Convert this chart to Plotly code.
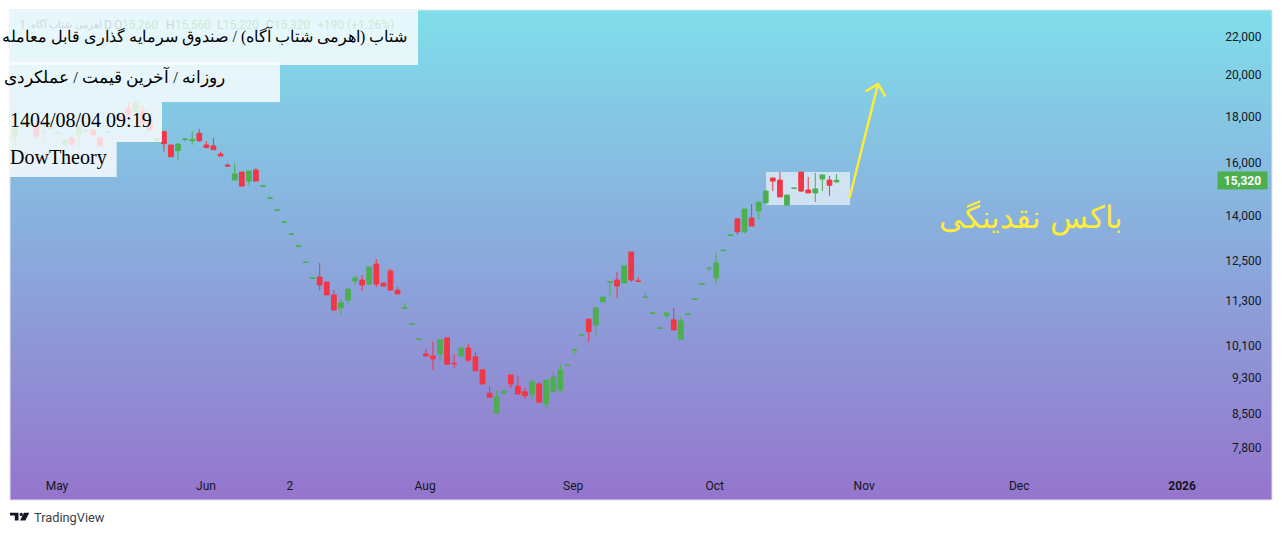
import base64
import math
import struct
import zlib

import plotly.graph_objects as go

# daily bars (bar index on x, last bar from the legend)
open_ = [17090, 17570, 17610, 17620, 17300, 17440, 17260, 16750, 17050, 17220,
         17350, 17400, 17050, 17300, 17660, 18020, 18340, 18210, 18250, 17840,
         16920, 17320, 16750, 16510, 16990, 16930, 17250, 16750, 16710, 16370,
         15920, 15330, 15640, 15290, 15720, 15090, 14640, 14200, 13780, 13370,
         12970, 12450, 11960, 12000, 11850, 11470, 11100, 11320, 11880, 11910,
         11790, 12400, 11820, 12180, 11610, 11090, 10650, 10250, 9880, 9830,
         9880, 10290, 9650, 9830, 10030, 9810, 9490, 8950, 8510, 8950,
         9370, 9110, 8980, 8930, 9160, 8710, 8980, 9020, 9600, 9970,
         10360, 10790, 10630, 11270, 11840, 11910, 11820, 12780, 11880, 11400,
         10950, 10540, 10880, 10770, 10260, 10920, 11340, 11780, 12260, 11970,
         12830, 13330, 13900, 13450, 13930, 14180, 14470, 15410, 15330, 14390,
         15010, 15640, 14950, 14840, 15370, 15330, 15260]
high = [17570, 17800, 17620, 17840, 17840, 17800, 17270, 16960, 17220, 17570,
        17360, 17400, 17050, 17310, 17670, 18020, 18670, 18770, 18530, 17840,
        17030, 17370, 16750, 16790, 17000, 17350, 17440, 16920, 17050, 16460,
        15990, 16010, 15640, 15680, 15800, 15100, 14650, 14210, 13790, 13380,
        12980, 12460, 11970, 12430, 11850, 11610, 11350, 11640, 12030, 12060,
        12310, 12560, 11820, 12250, 11700, 11240, 10660, 10260, 10010, 10190,
        10240, 10290, 9880, 10030, 10130, 9930, 9510, 9110, 9020, 9000,
        9370, 9350, 9070, 9270, 9210, 9250, 9470, 9630, 9610, 9980,
        10370, 10790, 11100, 11410, 11850, 12150, 12340, 12780, 12000, 11530,
        10960, 10550, 10960, 11100, 10850, 10930, 11350, 11790, 12270, 12750,
        12840, 13340, 13900, 14250, 14430, 14500, 14910, 15410, 15640, 14760,
        15020, 15640, 15450, 15610, 15530, 15490, 15560]
low = [16620, 17480, 17610, 17050, 16960, 17440, 17260, 16750, 16790, 16670,
       17350, 17180, 16710, 17300, 17660, 17750, 18070, 18210, 17710, 17400,
       16920, 16470, 16260, 16100, 16880, 16760, 16880, 16640, 16550, 16290,
       15880, 15330, 15100, 15140, 15290, 15090, 14640, 14200, 13780, 13370,
       12970, 12450, 11960, 11610, 11470, 11040, 10900, 11210, 11760, 11590,
       11760, 11700, 11730, 11590, 11500, 11090, 10650, 10250, 9830, 9490,
       9710, 9630, 9540, 9830, 9680, 9470, 9160, 8860, 8510, 8950,
       9070, 8930, 8820, 8800, 8750, 8600, 8980, 8980, 9600, 9880,
       10360, 10190, 10370, 11270, 11410, 11380, 11820, 11850, 11870, 11400,
       10950, 10540, 10820, 10500, 10260, 10920, 11340, 11780, 12180, 11790,
       12830, 13330, 13350, 13410, 13650, 13900, 14470, 14910, 14690, 14390,
       15010, 14880, 14840, 14500, 14910, 14730, 15220]
close = [17480, 17710, 17620, 17130, 17310, 17710, 17270, 16960, 16790, 17570,
         17360, 17180, 16710, 17310, 17670, 17750, 18070, 18620, 17710, 17400,
         17030, 16810, 16260, 16790, 17000, 16980, 16930, 16640, 16550, 16290,
         15880, 15570, 15100, 15680, 15290, 15100, 14650, 14210, 13790, 13380,
         12980, 12460, 11970, 11760, 11470, 11040, 11240, 11640, 11970, 11760,
         12310, 11790, 11730, 11610, 11500, 11100, 10660, 10260, 9830, 9760,
         10240, 9630, 9640, 10030, 9730, 9470, 9160, 8860, 8860, 9000,
         9160, 8930, 8890, 9210, 8750, 9250, 9320, 9490, 9610, 9980,
         10370, 10450, 11100, 11410, 11850, 11730, 12340, 11910, 11870, 11410,
         10960, 10550, 10960, 10500, 10740, 10930, 11350, 11790, 12270, 12430,
         12840, 13340, 13450, 14250, 13650, 14500, 14910, 15290, 14690, 14760,
         15020, 14910, 14840, 14990, 15530, 15130, 15320]

price_ticks = [22000, 20000, 18000, 16000, 14000, 12500, 11300, 10100, 9300, 8500, 7800]
month_ticks = [5.9, 26.95, 38.8, 57.9, 78.8, 98.8, 119.9, 141.8, 164.8]
month_labels = ["May", "Jun", "2", "Aug", "Sep", "Oct", "Nov", "Dec", "<b>2026</b>"]
last_price = 15320

title_lines = [
    "شتاب (اهرمی شتاب آگاه) / صندوق سرمایه گذاری قابل معامله",
    "روزانه / آخرین قیمت / عملکردی",
    "1404/08/04 09:19",
    "DowTheory",
]
box_label = "باکس نقدینگی"

W, H = 1282, 535
L, R, T, B = 10, 1272, 10, 500
GREEN = "#4CAF50"
RED = "#F23645"
YELLOW = "#FFEB3B"
FONT = "Roboto"


def px(x):
    return (x - L) / (R - L)


def py(y):
    return (B - y) / (B - T)


def polygon(points):
    return "M" + " L".join(f"{px(x)},{py(y)}" for x, y in points) + " Z"


def gradient_png(top, bottom, rows):
    raw = b""
    for i in range(rows):
        t = i / (rows - 1)
        raw += b"\x00" + bytes(round(a + (b - a) * t) for a, b in zip(top, bottom))

    def chunk(tag, data):
        return struct.pack(">I", len(data)) + tag + data + struct.pack(">I", zlib.crc32(tag + data))

    png = b"\x89PNG\r\n\x1a\n" + chunk(b"IHDR", struct.pack(">IIBBBBB", 1, rows, 8, 2, 0, 0, 0))
    png += chunk(b"IDAT", zlib.compress(raw)) + chunk(b"IEND", b"")
    return "data:image/png;base64," + base64.b64encode(png).decode()


fig = go.Figure()
fig.add_trace(go.Candlestick(
    x=list(range(len(open_))), open=open_, high=high, low=low, close=close,
    increasing=dict(line=dict(color=GREEN, width=1), fillcolor=GREEN),
    decreasing=dict(line=dict(color=RED, width=1), fillcolor=RED),
    hoverinfo="skip", showlegend=False,
))

shapes = [
    # liquidity box sits under the candles
    dict(type="rect", layer="below", xref="x", yref="y", x0=106.05, x1=117.9, y0=14395, y1=15645,
         fillcolor="rgba(255,255,255,0.6)", line_width=0),
    # arrow
    dict(type="path", xref="paper", yref="paper", line=dict(color=YELLOW, width=2.5),
         path=f"M{px(849.5)},{py(198)} L{px(878)},{py(84)} M{px(865.5)},{py(91.5)} L{px(878)},{py(84)} L{px(885.5)},{py(96.5)}"),
    # frame
    dict(type="rect", xref="paper", yref="paper", x0=0, x1=1, y0=0, y1=1,
         line=dict(color="#E0E3EB", width=1), fillcolor="rgba(0,0,0,0)"),
]
# white boxes behind the title lines
for x1, y0, y1 in [(418, 10, 65), (280, 62, 102), (162, 102, 142), (116.7, 142, 177)]:
    shapes.append(dict(type="rect", xref="paper", yref="paper", x0=0, x1=px(x1), y0=py(y1), y1=py(y0),
                       fillcolor="rgba(255,255,255,0.8)", line_width=0))
# TradingView logo
for pts in [
    [(10, 512.7), (18.5, 512.7), (18.5, 520.5), (14.8, 520.5), (14.8, 515.6), (10, 515.6)],
    [(24, 512.7), (29.3, 512.7), (25.3, 520.5), (20, 520.5)],
]:
    shapes.append(dict(type="path", xref="paper", yref="paper", path=polygon(pts),
                       fillcolor="#131722", line_width=0))
shapes.append(dict(type="circle", xref="paper", yref="paper", x0=px(19.6), x1=px(22.8), y0=py(516), y1=py(512.8),
                   fillcolor="#131722", line_width=0))

annotations = []


def label(x, y, text, size, color, family=FONT, anchor="left"):
    annotations.append(dict(xref="paper", yref="paper", x=px(x), y=py(y), text=text, showarrow=False,
                            xanchor=anchor, yanchor="middle", borderpad=0, font=dict(family=family, size=size, color=color)))


# legend row, almost hidden by the first white box
GREY = "#CFD6DB"
PALE = "#CDE9D6"
label(18, 24.7, "1", 12, GREY)
label(103, 24.7, "اهرمی شتاب آگاه", 10, GREY, FONT, "right")
for x, text, color in [(103, "D", GREY), (112.5, "O", GREY), (120.5, "15,260", PALE), (165, "H", GREY),
                       (173.5, "15,560", PALE), (216, "L", GREY), (222.5, "15,220", PALE), (264.5, "C", GREY),
                       (273, "15,320", PALE), (316, "+190 (+1.26%)", PALE)]:
    label(x, 24.7, text, 12, color)

SERIF = "Liberation Serif"
label(408, 36, title_lines[0], 15.7, "#000000", SERIF, "right")
label(226, 77, title_lines[1], 16.6, "#000000", SERIF, "right")
label(8.5, 120, title_lines[2], 20, "#000000", SERIF)
label(8.5, 157, title_lines[3], 20, "#000000", SERIF)
label(1031, 218, box_label, 30.8, YELLOW, "Liberation Sans", "center")
label(32.5, 517.3, "TradingView", 12.8, "#3A3E4A")

annotations.append(dict(xref="paper", yref="y", x=px(1242.5), y=math.log10(last_price), text=f"<b>{last_price:,}</b>",
                        showarrow=False, xanchor="center", yanchor="middle", bgcolor=GREEN, width=49, height=17,
                        borderpad=0, font=dict(family=FONT, size=12, color="#FFFFFF")))

fig.update_layout(
    width=W, height=H, autosize=False,
    margin=dict(l=L, r=W - R, t=T, b=H - B, pad=0),
    paper_bgcolor="#FFFFFF", plot_bgcolor="rgba(0,0,0,0)",
    boxgap=0.05, dragmode=False, showlegend=False,
    font=dict(family=FONT, size=12, color="#131722"),
    images=[dict(source=gradient_png((128, 222, 234), (149, 117, 205), B - T), xref="paper", yref="paper",
                 x=0, y=1, sizex=1, sizey=1, sizing="stretch", layer="below")],
    shapes=shapes, annotations=annotations,
    xaxis=dict(range=[-0.734, 177.5], rangeslider=dict(visible=False), showgrid=False, zeroline=False,
               tickmode="array", tickvals=month_ticks, ticktext=month_labels, ticklabelposition="inside",
               ticks="inside", ticklen=7, tickcolor="rgba(0,0,0,0)", tickfont=dict(family=FONT, size=12, color="#131722")),
    yaxis=dict(type="log", range=[math.log10(6834), math.log10(23552)], side="right", showgrid=False, zeroline=False,
               tickmode="array", tickvals=price_ticks, ticktext=[f"{v:,}" for v in price_ticks],
               ticklabelposition="inside", ticks="inside", ticklen=10, tickcolor="rgba(0,0,0,0)",
               tickfont=dict(family=FONT, size=12, color="#131722")),
)

fig.write_html("out.html", post_script="document.body.style.margin='0';", config=dict(displayModeBar=False))
